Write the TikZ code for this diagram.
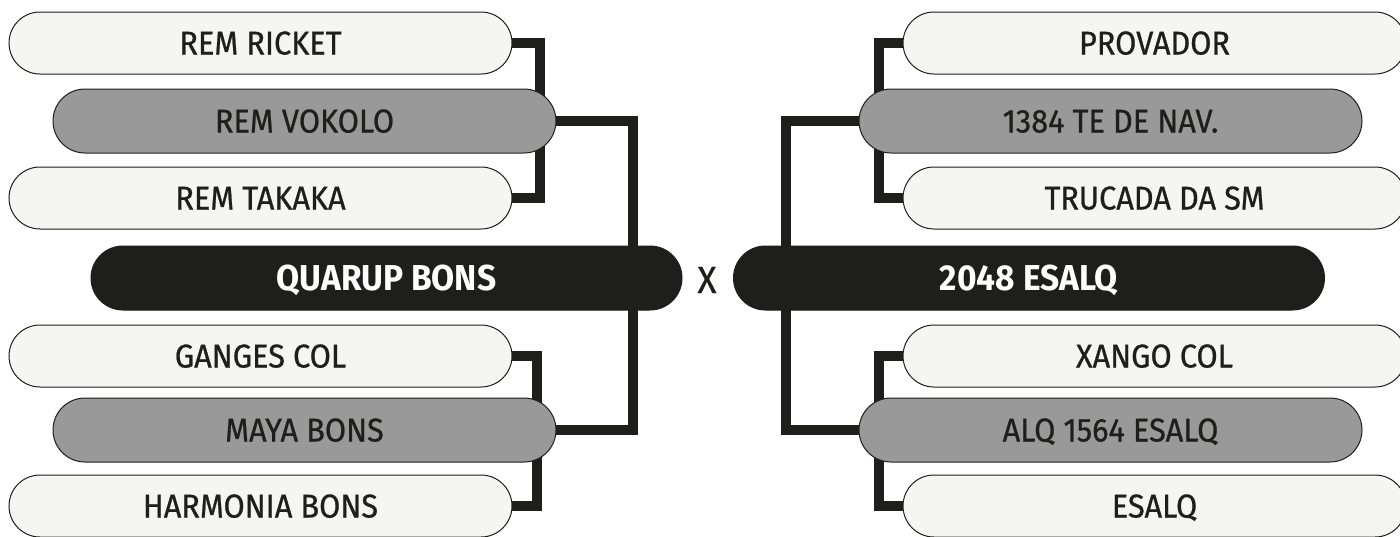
\documentclass[tikz,border=0pt]{standalone}
\usepackage{fontspec}
\setmainfont{Fira Sans}[FakeStretch=0.93,UprightFeatures={FakeBold=0.7}]
\usetikzlibrary{calc,backgrounds}
\definecolor{ink}{HTML}{1E1E1C}
\definecolor{paper}{HTML}{F5F5F3}
\definecolor{mid}{HTML}{999999}
\begin{document}
\begin{tikzpicture}[x=1pt,y=-1pt,
  team/.style={draw=ink,line width=1pt,fill=paper,text=ink,rounded corners=31pt,
    minimum width=503pt,minimum height=62pt,inner sep=0pt,text height=23pt,text depth=0pt,
    font=\fontsize{33}{36}\selectfont},
  winner/.style={team,fill=mid,minimum height=64pt,rounded corners=32pt},
  finalist/.style={team,fill=ink,text=white,minimum width=591pt,minimum height=64pt,
    rounded corners=32pt,text height=25pt,font=\fontsize{36}{40}\selectfont\bfseries},
  link/.style={draw=ink,line width=10pt,line join=miter}]
  \useasboundingbox (0,0) rectangle (1400,536);

  % left side
  \node(ricket)[team] at (260.5,43) {REM RICKET};
  \node(vokolo)[winner] at (304.5,121) {REM VOKOLO};
  \node(takaka)[team] at (260.5,198) {REM TAKAKA};
  \node(quarup)[finalist] at (386.5,278) {QUARUP BONS};
  \node(ganges)[team] at (260.5,356) {GANGES COL};
  \node(maya)[winner] at (304.5,430) {MAYA BONS};
  \node(harmonia)[team] at (260.5,506) {HARMONIA BONS};

  \node(versus)[text=ink,font=\fontsize{38}{40}\selectfont] at (707,280) {X};

  % right side
  \node(provador)[team] at (1154.5,43) {PROVADOR};
  \node(nav)[winner] at (1110.5,121) {1384 TE DE NAV.};
  \node(trucada)[team] at (1154.5,198) {TRUCADA DA SM};
  \node(esalq48)[finalist] at (1029,278) {2048 ESALQ};
  \node(xango)[team] at (1154.5,356) {XANGO COL};
  \node(alq)[winner] at (1110.5,430) {ALQ 1564 ESALQ};
  \node(esalq)[team] at (1154.5,506) {ESALQ};

  \begin{scope}[on background layer]
    \draw[link] (ricket.center) -- ($(ricket.east)+(27,0)$) |- (takaka.center);
    \draw[link] (vokolo.center) -- ($(vokolo.east)+(76,0)$) |- (maya.center);
    \draw[link] (ganges.center) -- ($(ganges.east)+(24,0)$) |- (harmonia.center);

    \draw[link] (provador.center) -- ($(provador.west)+(-24,0)$) |- (trucada.center);
    \draw[link] (nav.center) -- ($(nav.west)+(-73,0)$) |- (alq.center);
    \draw[link] (xango.center) -- ($(xango.west)+(-24,0)$) |- (esalq.center);
  \end{scope}
\end{tikzpicture}
\end{document}
